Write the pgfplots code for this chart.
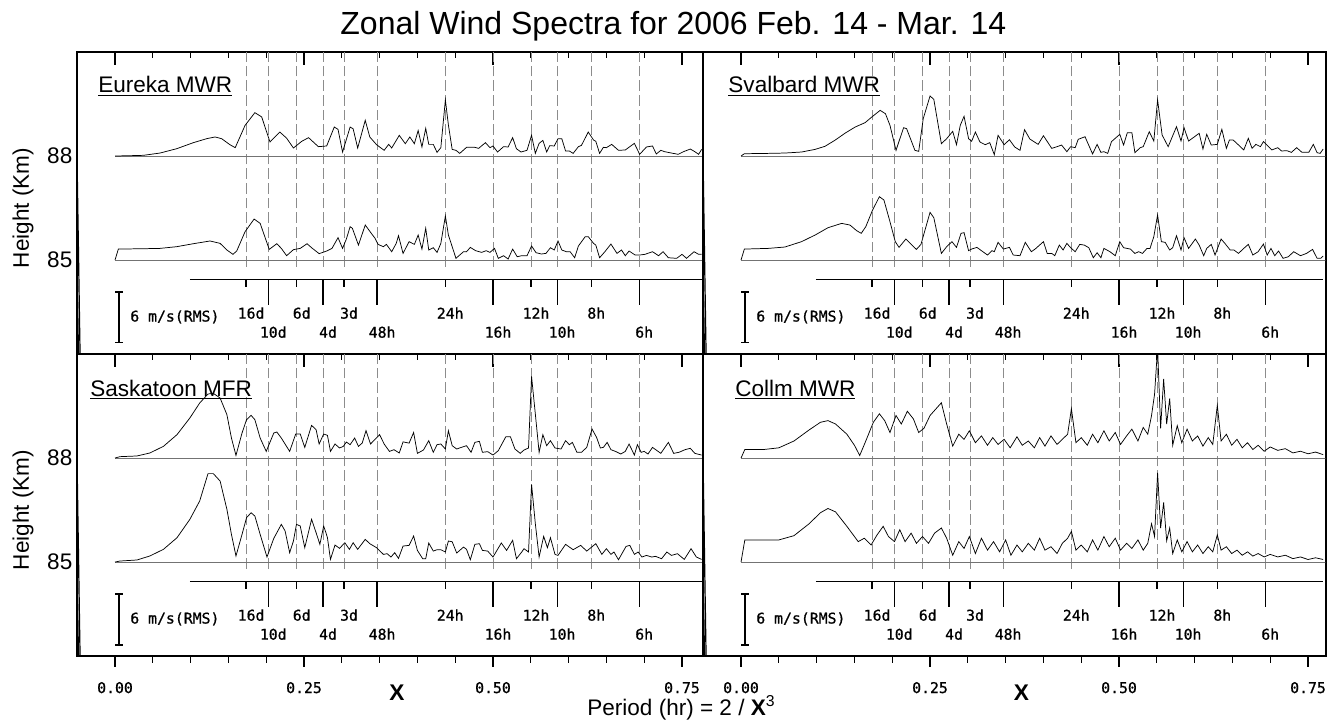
\documentclass[border=0pt]{standalone}
\usepackage{fontspec}
\setmainfont{Liberation Sans}
\newfontfamily\monof[FakeBold=0.8]{DejaVu Sans Mono}
\usepackage{pgfplots}
\usepackage{pgfplotstable}
\pgfplotsset{compat=1.18}

\newcommand{\bigf}{\fontsize{16.9}{20}\selectfont}
\newcommand{\monosz}{\monof\fontsize{11.1}{13}\selectfont}

% amplitudes in m/s (6 m/s = scale bar), x = (2/P[hr])^(1/3)
\pgfplotstableread{
x a
0.000 0
0.020 0.04
0.0375 0.08
0.0595 0.35
0.0816 0.86
0.1036 1.57
0.1213 2.04
0.1323 2.24
0.141 2.04
0.152 1.33
0.159 0.98
0.172 3.6
0.185 5.1
0.194 4.6
0.205 1.65
0.218 2.82
0.227 2.1
0.236 0.94
0.247 1.73
0.256 2.16
0.269 1.1
0.280 1.18
0.290 3.41
0.295 3.14
0.301 0.47
0.311 3.41
0.315 3.2
0.321 0.94
0.331 4.2
0.337 2.24
0.346 1.33
0.356 0.67
0.362 1.37
0.366 0.94
0.376 2.43
0.384 1.45
0.390 2.24
0.396 1.45
0.401 3.0
0.406 1.06
0.411 3.25
0.415 1.37
0.421 1.37
0.426 0.43
0.431 0.98
0.437 6.6
0.441 3.65
0.446 0.78
0.451 0.67
0.456 0.31
0.465 1.02
0.476 1.02
0.481 0.9
0.490 1.57
0.496 0.98
0.500 1.18
0.506 0.47
0.514 1.1
0.520 1.06
0.526 2.16
0.531 0.86
0.537 0.47
0.545 0.67
0.551 2.43
0.556 0.31
0.561 1.49
0.566 1.84
0.571 0.47
0.575 1.22
0.581 1.18
0.586 2.04
0.591 2.04
0.596 0.59
0.601 0.59
0.606 0.31
0.613 1.1
0.617 1.25
0.626 2.82
0.633 1.88
0.636 1.73
0.641 0.31
0.646 1.02
0.650 0.98
0.657 1.37
0.666 0.67
0.675 0.71
0.687 1.49
0.694 0.2
0.703 1.06
0.711 1.18
0.716 0.24
0.722 0.67
0.727 0.51
0.736 0.35
0.745 0.2
0.752 0.51
0.761 0.82
0.767 0.51
0.772 0.2
0.776 0.78
}\EUu

\pgfplotstableread{
x a
0.000 0
0.0044 1.29
0.0375 1.33
0.0595 1.37
0.0816 1.57
0.1036 1.92
0.1257 2.24
0.139 1.96
0.148 1.18
0.156 0.67
0.161 1.06
0.172 3.33
0.184 4.82
0.192 4.31
0.204 1.25
0.214 1.92
0.220 1.37
0.227 0.51
0.236 1.22
0.245 1.37
0.254 1.92
0.260 1.45
0.270 0.75
0.280 1.06
0.287 1.37
0.295 2.63
0.301 1.37
0.306 2.47
0.311 3.92
0.314 3.73
0.322 1.76
0.331 4.12
0.340 3.02
0.344 2.55
0.348 1.84
0.355 1.57
0.359 1.84
0.366 0.98
0.372 1.96
0.375 2.86
0.381 0.78
0.389 2.16
0.396 1.84
0.401 2.94
0.406 1.29
0.411 3.73
0.415 1.18
0.421 1.45
0.426 0.9
0.431 1.96
0.437 5.18
0.441 2.94
0.451 0.2
0.461 0.98
0.465 0.98
0.470 1.49
0.477 1.1
0.485 0.9
0.491 1.1
0.496 0.9
0.502 1.37
0.507 0.2
0.514 0.51
0.520 0.12
0.526 1.29
0.532 0.39
0.538 0.51
0.545 0.51
0.551 1.65
0.557 0.86
0.564 0.71
0.570 0.78
0.576 1.45
0.581 1.18
0.586 2.24
0.591 1.18
0.597 0.98
0.602 0.98
0.608 0.27
0.613 1.65
0.622 2.75
0.626 2.75
0.633 1.96
0.636 1.76
0.641 0.27
0.648 0.98
0.656 1.88
0.664 0.78
0.670 1.18
0.675 0.51
0.680 1.06
0.688 0.59
0.694 0.59
0.701 0.67
0.711 0.98
0.719 0.51
0.725 0.98
0.732 0.27
0.743 0.2
0.750 0.67
0.756 0.2
0.766 0.98
0.772 0.67
0.776 0.67
}\EUl

\pgfplotstableread{
x a
0.000 0
0.0044 0.27
0.036 0.31
0.058 0.35
0.080 0.47
0.098 0.78
0.111 1.14
0.124 1.84
0.138 2.71
0.151 3.41
0.164 3.92
0.173 4.59
0.184 5.37
0.191 4.98
0.197 3.61
0.205 0.67
0.215 3.33
0.219 3.22
0.230 0.67
0.235 0.55
0.241 4.39
0.250 7.06
0.255 6.67
0.265 1.45
0.272 2.04
0.280 2.9
0.285 1.33
0.290 3.61
0.295 4.67
0.301 2.04
0.305 1.73
0.310 2.82
0.316 1.65
0.323 1.33
0.329 1.57
0.335 0.16
0.340 2.43
0.348 1.33
0.355 1.92
0.362 1.06
0.369 0.67
0.375 3.1
0.382 2.0
0.393 1.37
0.400 2.39
0.411 0.9
0.418 1.1
0.424 1.29
0.431 0.51
0.436 1.1
0.442 0.98
0.446 1.96
0.455 2.27
0.465 0.24
0.471 1.37
0.476 0.43
0.480 0.51
0.485 0.31
0.490 1.69
0.501 2.55
0.506 1.29
0.511 2.75
0.517 2.75
0.521 0.39
0.528 0.98
0.532 1.1
0.540 2.86
0.546 1.76
0.551 6.59
0.557 2.47
0.565 1.1
0.576 3.45
0.582 1.76
0.586 3.33
0.592 1.76
0.606 2.67
0.611 0.82
0.616 2.55
0.622 1.29
0.630 1.37
0.636 3.14
0.642 0.9
0.646 1.88
0.651 1.88
0.659 1.22
0.665 0.71
0.671 2.08
0.676 0.9
0.681 1.37
0.687 1.1
0.691 1.69
0.702 0.71
0.710 0.98
0.715 0.59
0.722 0.63
0.728 0.43
0.735 0.98
0.742 0.43
0.751 0.43
0.757 1.37
0.762 0.39
0.766 0.31
0.770 0.82
}\SVu

\pgfplotstableread{
x a
0.000 0
0.0044 1.29
0.036 1.37
0.058 1.53
0.080 2.16
0.098 2.94
0.115 3.8
0.133 4.31
0.144 4.12
0.153 3.45
0.159 3.14
0.165 3.92
0.174 5.88
0.183 7.45
0.189 7.06
0.197 4.51
0.204 2.16
0.209 1.49
0.218 2.47
0.226 1.76
0.232 1.25
0.238 1.84
0.250 5.61
0.255 4.98
0.265 0.78
0.272 1.57
0.279 2.16
0.285 1.49
0.291 3.14
0.295 3.22
0.301 1.1
0.305 1.29
0.312 1.49
0.318 1.1
0.326 0.59
0.332 1.1
0.335 0.98
0.340 2.08
0.347 1.29
0.355 1.49
0.360 0.59
0.369 0.51
0.376 2.08
0.384 0.98
0.389 1.29
0.400 2.16
0.405 0.78
0.411 0.78
0.415 0.51
0.421 1.76
0.426 1.18
0.431 1.96
0.436 1.45
0.442 0.98
0.448 1.84
0.454 1.76
0.460 1.45
0.466 0.27
0.471 0.86
0.476 0.27
0.480 1.37
0.488 0.98
0.495 0.51
0.501 2.16
0.506 1.45
0.515 1.29
0.521 0.78
0.526 0.98
0.531 0.78
0.537 1.37
0.541 1.37
0.546 2.75
0.551 5.29
0.556 2.16
0.561 2.08
0.567 1.18
0.571 1.45
0.576 2.86
0.582 1.18
0.586 2.63
0.592 1.37
0.601 2.47
0.606 1.76
0.612 0.51
0.616 1.37
0.622 1.84
0.627 0.59
0.635 2.47
0.640 1.96
0.647 1.18
0.652 1.18
0.658 0.78
0.665 1.37
0.671 1.84
0.677 0.59
0.684 0.98
0.691 1.88
0.696 0.59
0.701 1.37
0.706 0.51
0.711 1.06
0.717 0.2
0.724 0.39
0.731 0.98
0.740 0.51
0.748 0.78
0.756 1.25
0.762 0.2
0.767 0.2
0.770 0.47
}\SVl

\pgfplotstableread{
x a
0.000 0
0.0066 0.16
0.029 0.24
0.046 0.59
0.064 1.37
0.082 2.75
0.099 4.71
0.112 6.47
0.123 7.53
0.130 7.61
0.139 7.06
0.148 5.1
0.154 2.35
0.160 0.31
0.168 2.94
0.174 4.51
0.180 5.02
0.185 4.51
0.192 2.35
0.200 0.78
0.210 2.94
0.214 3.06
0.220 2.35
0.231 0.78
0.239 2.82
0.245 2.82
0.251 1.25
0.260 3.84
0.266 3.33
0.270 1.65
0.276 2.82
0.281 2.67
0.285 0.78
0.291 1.65
0.297 1.18
0.302 1.37
0.306 1.88
0.311 1.57
0.317 2.35
0.322 1.37
0.327 1.76
0.332 3.22
0.338 1.65
0.350 2.75
0.356 1.65
0.363 0.78
0.369 0.98
0.376 0.59
0.381 1.9
0.389 1.75
0.395 3.0
0.400 0.55
0.408 0.94
0.415 2.04
0.421 0.67
0.426 1.57
0.431 1.65
0.437 1.06
0.441 3.22
0.446 1.45
0.452 1.06
0.458 1.25
0.465 1.45
0.471 0.67
0.476 1.84
0.482 1.96
0.486 0.67
0.493 0.75
0.500 0.35
0.507 0.86
0.517 2.51
0.523 2.51
0.529 1.06
0.536 0.55
0.541 0.94
0.547 1.18
0.551 9.6
0.556 5.18
0.561 0.67
0.566 2.75
0.571 1.45
0.576 2.04
0.582 1.18
0.590 1.06
0.596 2.04
0.601 1.57
0.605 1.84
0.611 0.67
0.617 0.67
0.624 1.25
0.631 3.41
0.637 2.43
0.642 1.18
0.646 1.25
0.651 1.84
0.656 0.98
0.662 0.78
0.669 0.47
0.675 0.78
0.680 1.65
0.687 0.35
0.691 1.57
0.696 0.67
0.700 0.78
0.705 0.47
0.711 1.25
0.722 0.55
0.732 1.84
0.739 0.55
0.746 0.67
0.754 0.98
0.761 1.14
0.767 0.55
0.776 0.35
}\SKu

\pgfplotstableread{
x a
0.000 0
0.0066 0.12
0.029 0.24
0.046 0.71
0.064 1.49
0.082 2.86
0.099 5.02
0.112 7.18
0.123 10.4
0.130 10.4
0.139 9.53
0.148 6.2
0.154 3.25
0.160 0.71
0.168 3.25
0.174 5.22
0.180 5.8
0.185 5.41
0.192 3.25
0.201 0.59
0.210 2.78
0.220 4.43
0.225 3.65
0.231 1.1
0.236 2.47
0.240 4.43
0.245 4.24
0.251 1.69
0.260 5.02
0.266 3.45
0.271 2.08
0.276 4.24
0.279 3.45
0.281 2.86
0.285 0.31
0.291 2.0
0.297 1.61
0.304 2.27
0.310 1.49
0.315 2.27
0.321 1.49
0.331 2.67
0.337 2.16
0.346 1.69
0.355 0.9
0.360 0.98
0.365 0.59
0.370 1.1
0.375 0.43
0.381 1.88
0.389 1.96
0.395 3.06
0.400 1.37
0.407 0.39
0.411 0.39
0.415 2.24
0.421 1.29
0.426 1.45
0.431 1.45
0.437 1.18
0.441 2.47
0.446 2.39
0.452 1.06
0.461 1.76
0.465 1.49
0.470 0.27
0.476 2.08
0.482 2.16
0.486 1.37
0.493 1.29
0.500 0.59
0.511 2.24
0.518 1.37
0.526 2.55
0.531 0.39
0.538 1.18
0.541 1.57
0.547 1.18
0.551 9.14
0.556 4.51
0.561 0.59
0.567 3.02
0.572 1.69
0.576 2.86
0.582 0.9
0.586 0.78
0.596 2.08
0.606 1.45
0.616 1.96
0.624 1.29
0.636 2.16
0.644 0.9
0.650 1.57
0.656 0.9
0.660 1.18
0.666 0.27
0.676 1.84
0.681 1.96
0.687 0.9
0.692 1.18
0.697 0.59
0.703 0.78
0.710 0.59
0.715 0.67
0.723 0.39
0.730 1.18
0.736 0.78
0.744 0.98
0.753 0.31
0.762 1.57
0.769 0.59
0.776 0.31
}\SKl

\pgfplotstableread{
x a
0.000 0
0.005 1.0
0.030 1.0
0.050 1.2
0.070 2.0
0.090 3.3
0.105 4.2
0.115 4.4
0.125 4.0
0.140 2.8
0.150 1.5
0.157 0.3
0.165 2.0
0.175 4.2
0.183 5.2
0.190 4.4
0.197 3.0
0.205 5.0
0.212 4.0
0.220 5.5
0.228 4.6
0.235 3.0
0.242 3.5
0.250 5.0
0.258 5.8
0.265 6.5
0.272 4.0
0.280 1.4
0.288 2.8
0.295 2.2
0.302 3.2
0.310 1.8
0.318 2.6
0.326 1.5
0.333 2.4
0.340 1.6
0.348 2.2
0.356 1.2
0.365 2.5
0.372 1.5
0.380 2.0
0.388 1.2
0.395 2.4
0.402 1.4
0.410 2.6
0.418 1.6
0.425 2.2
0.432 2.8
0.437 5.8
0.443 1.8
0.450 2.4
0.458 1.5
0.465 2.8
0.472 1.8
0.480 3.2
0.487 2.0
0.495 3.0
0.502 1.6
0.510 2.6
0.517 3.4
0.525 2.0
0.532 3.6
0.538 2.8
0.543 5.0
0.547 7.5
0.551 13.0
0.555 3.5
0.559 9.3
0.563 4.0
0.567 7.0
0.571 1.5
0.577 3.8
0.583 1.8
0.590 3.4
0.597 2.0
0.604 2.6
0.611 1.4
0.618 2.4
0.624 1.6
0.630 6.2
0.635 2.0
0.642 2.8
0.649 1.5
0.656 2.2
0.663 1.2
0.670 1.8
0.677 1.0
0.684 1.5
0.692 0.8
0.700 1.3
0.710 0.9
0.720 1.1
0.730 0.6
0.740 0.8
0.750 0.5
0.760 0.7
0.770 0.4
}\COu

\pgfplotstableread{
x a
0.000 0
0.005 2.6
0.050 2.6
0.070 3.1
0.090 4.5
0.105 5.8
0.115 6.3
0.125 5.9
0.140 4.2
0.155 2.4
0.163 2.8
0.172 2.0
0.180 3.2
0.188 4.2
0.195 3.0
0.203 2.4
0.210 3.8
0.217 2.4
0.225 3.4
0.232 2.2
0.240 3.0
0.248 2.2
0.256 3.4
0.265 4.0
0.272 2.8
0.280 0.8
0.288 2.4
0.295 1.6
0.302 3.0
0.310 1.0
0.318 2.8
0.326 1.4
0.334 2.4
0.342 1.2
0.350 2.6
0.357 0.8
0.365 2.0
0.372 1.2
0.380 2.2
0.388 1.4
0.395 2.8
0.402 1.4
0.410 1.8
0.418 1.0
0.425 2.2
0.432 2.8
0.437 3.6
0.443 1.4
0.450 2.0
0.458 1.2
0.465 2.6
0.472 1.4
0.480 3.0
0.487 1.8
0.495 2.8
0.502 1.4
0.510 2.2
0.517 1.6
0.525 2.6
0.532 1.4
0.538 2.2
0.543 4.5
0.547 3.0
0.551 10.5
0.555 4.0
0.559 7.0
0.563 2.5
0.567 4.0
0.571 1.0
0.577 2.6
0.583 1.2
0.590 2.4
0.597 1.2
0.604 2.0
0.611 1.0
0.618 1.8
0.624 1.2
0.630 3.2
0.635 1.4
0.642 1.8
0.649 1.0
0.656 1.4
0.663 0.8
0.670 1.2
0.677 0.7
0.684 1.0
0.692 0.6
0.700 0.9
0.710 0.6
0.720 0.8
0.730 0.4
0.740 0.6
0.750 0.3
0.760 0.5
0.770 0.3
}\COl

\pgfplotsset{
  panel/.style={
    scale only axis, height=226.5pt,
    xmin=-0.0503, ymin=82.29, ymax=91.0,
    axis line style={line width=0.9pt},
    xtick={0,0.25,0.5,0.75},
    minor xtick={0.05,0.1,0.15,0.2,0.3,0.35,0.4,0.45,0.55,0.6,0.65,0.7},
    major tick length=9.75pt, minor tick length=4.5pt,
    every tick/.style={black, line width=0.9pt},
    tick align=inside, xtick pos=upper,
    xticklabels={,,,},
    ytick={85,88}, ytick style={draw=none},
    yticklabels={,},
    clip=true,
  },
  leftp/.style={width=469.5pt, xmax=0.7778,
    yticklabels={85,88}, yticklabel style={font=\bigf},
    ylabel={Height (Km)}, ylabel style={font=\bigf, at={(axis description cs:-0.0863,0.483)}, anchor=center},
  },
  rightp/.style={width=467.25pt, xmax=0.7738},
  bottomax/.style={
    scale only axis, height=226.5pt,
    xmin=-0.0503, ymin=82.29, ymax=91.0,
    hide y axis, axis x line*=bottom,
    axis line style={-, line width=0.9pt},
    xtick={0,0.25,0.5,0.75},
    minor xtick={0.05,0.1,0.15,0.2,0.3,0.35,0.4,0.45,0.55,0.6,0.65,0.7},
    major tick length=8pt, minor tick length=5pt,
    every tick/.style={black, line width=0.9pt},
    tick align=outside, xtick pos=lower,
    xticklabels={0.00,0.25,0.50,0.75},
    xticklabel style={font=\monosz, yshift=-8pt},
    xlabel={\textbf{X}}, xlabel style={font=\fontsize{17}{18}\selectfont, at={(axis description cs:0.511,0)}, anchor=north, yshift=-18pt},
  },
}

\newcommand{\deco}[2]{%
  \pgfplotsinvokeforeach{0.17334,0.20274,0.24037,0.27516,0.30285,0.34668,0.43679,0.5,0.55032,0.5848,0.62996,0.69336}{
    \draw[black!45, line width=0.6pt, dash pattern=on 8pt off 3pt] (axis cs:##1,84.8) -- (axis cs:##1,91.0);
  }
  \draw[black!55, line width=0.6pt] (axis cs:0,88) -- (axis cs:#1,88);
  \draw[black!55, line width=0.6pt] (axis cs:0,85) -- (axis cs:#1,85);
  \draw[line width=0.9pt] (axis cs:-0.0503,88) -- ++(4.5pt,0);
  \draw[line width=0.9pt] (axis cs:-0.0503,85) -- ++(4.5pt,0);
  \draw[line width=0.9pt] (axis cs:#1,88) -- ++(5pt,0);
  \draw[line width=0.9pt] (axis cs:#1,85) -- ++(5pt,0);
  % period axis
  \draw[line width=0.9pt] (axis cs:0.099,84.45) -- (axis cs:#2,84.45);
  \pgfplotsinvokeforeach{0.17334,0.24037,0.30285,0.43679,0.55032,0.62996}{
    \draw[line width=0.9pt] (axis cs:##1,84.45) -- (axis cs:##1,84.22);
  }
  \pgfplotsinvokeforeach{0.20274,0.27516,0.34668,0.5,0.5848,0.69336}{
    \draw[line width=0.9pt] (axis cs:##1,84.45) -- (axis cs:##1,83.70);
  }
  \node[font=\monosz] at (axis cs:0.1800,83.47) {16d};
  \node[font=\monosz] at (axis cs:0.2470,83.47) {6d};
  \node[font=\monosz] at (axis cs:0.3095,83.47) {3d};
  \node[font=\monosz] at (axis cs:0.4434,83.47) {24h};
  \node[font=\monosz] at (axis cs:0.5569,83.47) {12h};
  \node[font=\monosz] at (axis cs:0.6366,83.47) {8h};
  \node[font=\monosz] at (axis cs:0.2093,82.92) {10d};
  \node[font=\monosz] at (axis cs:0.2818,82.92) {4d};
  \node[font=\monosz] at (axis cs:0.3533,82.92) {48h};
  \node[font=\monosz] at (axis cs:0.5066,82.92) {16h};
  \node[font=\monosz] at (axis cs:0.5914,82.92) {10h};
  \node[font=\monosz] at (axis cs:0.7000,82.92) {6h};
  % scale bar
  \draw[line width=0.9pt] (axis cs:0.0053,84.08) -- (axis cs:0.0053,82.61);
  \draw[line width=0.9pt] (axis cs:0.0,84.08) -- (axis cs:0.0106,84.08);
  \draw[line width=0.9pt] (axis cs:0.0,82.61) -- (axis cs:0.0106,82.61);
  \node[font=\monosz, anchor=west] at (axis cs:0.014,83.36) {6 m/s(RMS)};
}

\newcommand{\spec}[1]{%
  \addplot[black, line width=0.55pt] table[x=x, y expr={88+0.2452*\thisrow{a}}] {#1};
}
\newcommand{\specl}[1]{%
  \addplot[black, line width=0.55pt] table[x=x, y expr={85+0.2452*\thisrow{a}}] {#1};
}

\begin{document}
\begin{tikzpicture}
\path[use as bounding box] (0,0) rectangle (999.75pt,543pt);

% upper left: Eureka
\begin{axis}[panel, leftp, at={(57.75pt,277.5pt)}, anchor=south west]
  \deco{0.7778}{0.776}
  \spec{\EUu}
  \specl{\EUl}
  \node[font=\bigf, anchor=base west, inner sep=0pt] at (axis cs:-0.0225,89.82) {\underline{Eureka MWR}};
\end{axis}

% upper right: Svalbard
\begin{axis}[panel, rightp, at={(527.25pt,277.5pt)}, anchor=south west]
  \deco{0.7738}{0.770}
  \spec{\SVu}
  \specl{\SVl}
  \node[font=\bigf, anchor=base west, inner sep=0pt] at (axis cs:-0.017,89.82) {\underline{Svalbard MWR}};
\end{axis}

% lower left: Saskatoon
\begin{axis}[panel, leftp, at={(57.75pt,51pt)}, anchor=south west]
  \deco{0.7778}{0.776}
  \spec{\SKu}
  \specl{\SKl}
  \node[font=\bigf, anchor=base west, inner sep=0pt] at (axis cs:-0.033,89.78) {\underline{Saskatoon MFR}};
\end{axis}
\begin{axis}[bottomax, width=469.5pt, xmax=0.7778, at={(57.75pt,51pt)}, anchor=south west]
\end{axis}

% lower right: Collm
\begin{axis}[panel, rightp, at={(527.25pt,51pt)}, anchor=south west]
  \deco{0.7738}{0.770}
  \spec{\COu}
  \specl{\COl}
  \node[font=\bigf, anchor=base west, inner sep=0pt] at (axis cs:-0.008,89.78) {\underline{Collm MWR}};
\end{axis}
\begin{axis}[bottomax, width=467.25pt, xmax=0.7738, at={(527.25pt,51pt)}, anchor=south west]
\end{axis}

\node[font=\fontsize{24}{28}\selectfont] at (505pt,523.5pt) {Zonal Wind Spectra for 2006 Feb. 14 - Mar. 14};
\node[font=\bigf] at (511pt,12pt) {Period (hr) = 2 / \textbf{X}$^{\mathrm{3}}$};
\end{tikzpicture}
\end{document}
